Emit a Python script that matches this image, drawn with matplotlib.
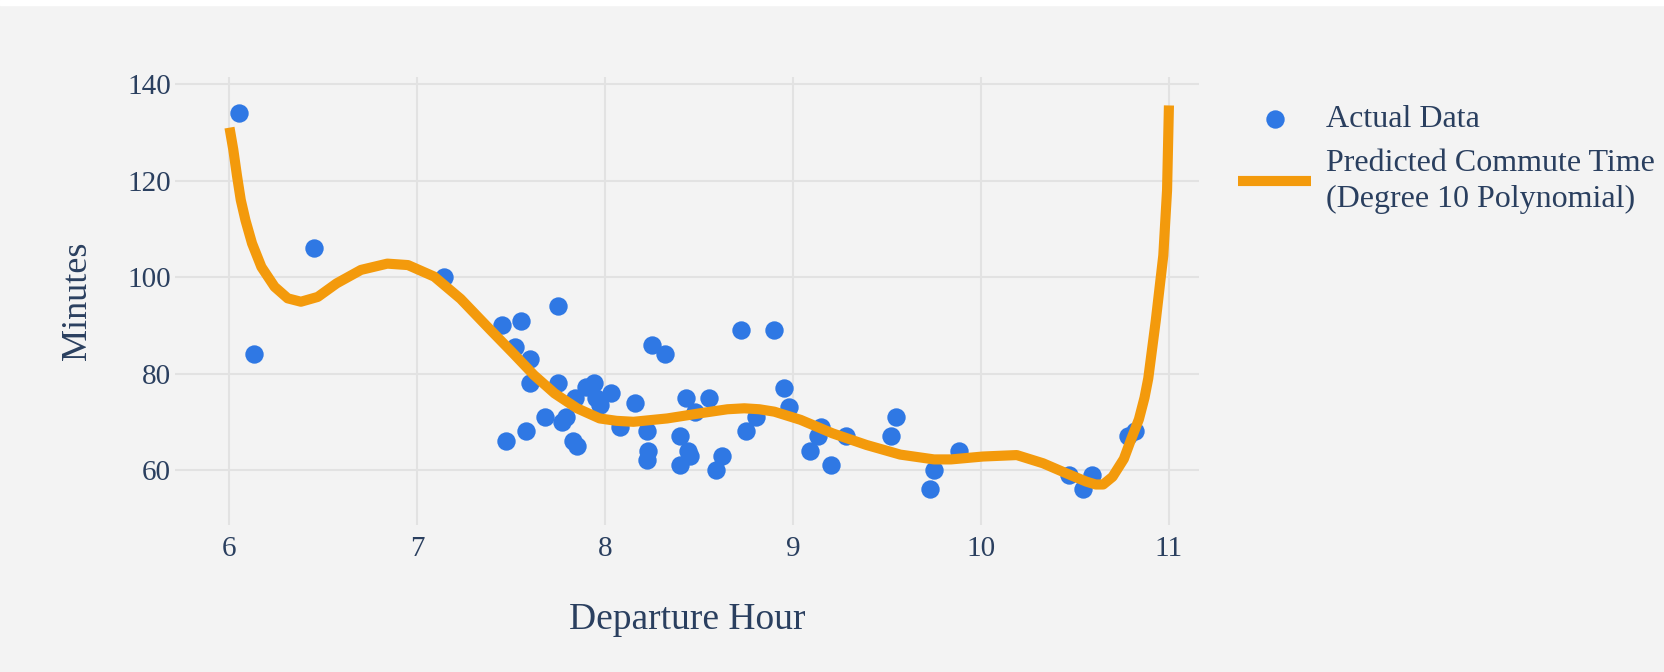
import matplotlib
matplotlib.use("Agg")
import matplotlib.pyplot as plt
from matplotlib.patches import Rectangle

# departure hour vs. commute minutes
depart_hour = [6.05, 6.13, 6.45, 7.14, 7.45, 7.55, 7.52, 7.60, 7.60, 7.75,
               7.75, 7.47, 7.58, 7.68, 7.77, 7.79, 7.84, 7.83, 7.85, 7.90,
               7.94, 7.95, 7.97, 8.03, 8.08, 8.16, 8.25, 8.32, 8.22, 8.23,
               8.22, 8.43, 8.48, 8.40, 8.44, 8.45, 8.40, 8.55, 8.62, 8.59,
               8.72, 8.90, 8.80, 8.75, 8.95, 8.98, 9.09, 9.13, 9.15, 9.20,
               9.28, 9.52, 9.55, 9.75, 9.73, 9.88, 10.47, 10.59, 10.54,
               10.78, 10.82]
minutes = [134, 84, 106, 100, 90, 91, 85.6, 83, 78, 94,
           78, 66, 68, 71, 70, 71, 75, 66, 65, 77.3,
           78, 75, 73.5, 76, 69, 74, 86, 84, 68, 64,
           62, 75, 72, 67, 64, 63, 61, 75, 63, 60,
           89, 89, 71, 68, 77, 73, 64, 67, 69, 61,
           67, 67, 71, 60, 56, 64, 59, 59, 56,
           67, 68]

# degree 10 polynomial prediction
fit_hour = [6.00, 6.02, 6.04, 6.06, 6.085, 6.12, 6.17, 6.24, 6.31, 6.38,
            6.47, 6.57, 6.70, 6.84, 6.95, 7.09, 7.23, 7.39, 7.51, 7.62,
            7.73, 7.85, 7.97, 8.06, 8.15, 8.33, 8.51, 8.65, 8.74, 8.82,
            8.90, 9.04, 9.21, 9.39, 9.57, 9.75, 9.84, 10.01, 10.19, 10.33,
            10.455, 10.56, 10.61, 10.65, 10.70, 10.76, 10.80, 10.84, 10.87,
            10.89, 10.93, 10.97, 10.99, 11.0]
fit_minutes = [131.0, 126.5, 121.0, 116.0, 111.8, 107.0, 102.1, 98.0, 95.6, 94.9,
               95.9, 98.7, 101.5, 102.8, 102.5, 100.1, 95.5, 89.0, 84.2, 79.7,
               75.9, 72.8, 70.7, 70.2, 70.0, 70.7, 71.8, 72.6, 72.8, 72.6,
               72.1, 70.4, 67.6, 65.2, 63.2, 62.2, 62.2, 62.8, 63.1, 61.4,
               59.3, 57.6, 57.0, 57.0, 58.6, 62.3, 66.5, 70.5, 75.0,
               79.0, 91.0, 104.5, 118.0, 135.6]

x_ticks = [6, 7, 8, 9, 10, 11]
y_ticks = [60, 80, 100, 120, 140]

bg = "#f3f3f3"
text_col = "#2a3f5f"
plt.rcParams["font.family"] = ["Liberation Serif", "DejaVu Serif"]

fig = plt.figure(figsize=(16.65, 6.72), dpi=100, facecolor=bg)
ax = fig.add_axes([175 / 1665, 1 - 525 / 672, 1024 / 1665, 448 / 672])
ax.set_facecolor(bg)

ax.scatter(depart_hour, minutes, s=175, color="#2f78e4", linewidths=0,
           zorder=3, label="Actual Data")
ax.plot(fit_hour, fit_minutes, color="#f39a0c", lw=7.3, zorder=4,
        solid_capstyle="butt", solid_joinstyle="round",
        label="Predicted Commute Time\n(Degree 10 Polynomial)")

ax.set_xlim(5.71, 11.16)
ax.set_ylim(48.6, 141.5)
ax.set_xticks(x_ticks)
ax.set_yticks(y_ticks)
ax.grid(True, color="#e2e2e2", lw=1.5)
ax.set_axisbelow(True)
for s in ax.spines.values():
    s.set_visible(False)
ax.tick_params(length=0, labelsize=21, colors=text_col, pad=3)
ax.tick_params(axis="x", pad=8)

ax.set_xlabel("Departure Hour", fontsize=27, color=text_col, labelpad=29)
ax.set_ylabel("Minutes", fontsize=26, color=text_col, labelpad=24)

leg = fig.legend(loc="upper left", bbox_to_anchor=(1225 / 1665, 1 - 92 / 672),
                 frameon=False, fontsize=23, labelcolor=text_col,
                 handlelength=2.3, handletextpad=0.45, labelspacing=0.45,
                 markerscale=1.0, borderaxespad=0)
for t in leg.get_texts():
    t.set_linespacing(1.35)

# white strip along the top edge
fig.patches.append(Rectangle((0, 1 - 5 / 672), 1, 5 / 672, transform=fig.transFigure,
                             color="white", zorder=10))

fig.savefig("out.png", dpi=100, facecolor=bg)
